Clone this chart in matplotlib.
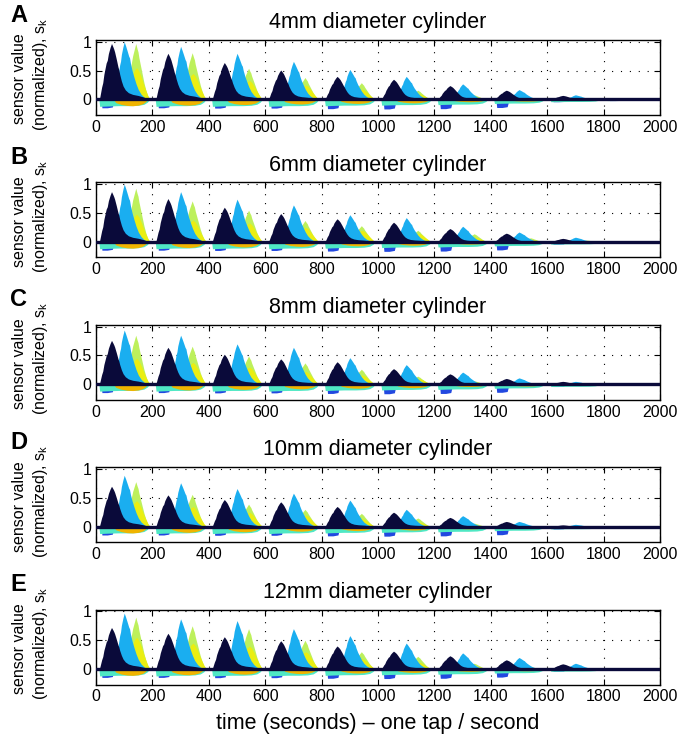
import matplotlib.pyplot as plt

plt.rcParams['font.family'] = ['Liberation Sans', 'DejaVu Sans']

# tap groups start every 200 s
taps = [0, 200, 400, 600, 800, 1000, 1200, 1400, 1600, 1800]

titles = ["4mm diameter cylinder", "6mm diameter cylinder", "8mm diameter cylinder",
          "10mm diameter cylinder", "12mm diameter cylinder"]
letters = ["A", "B", "C", "D", "E"]

# peak values per tap group
navy_peaks = [
    [0.97, 0.80, 0.64, 0.51, 0.40, 0.35, 0.24, 0.16, 0.07, 0.02],
    [0.87, 0.75, 0.60, 0.49, 0.40, 0.34, 0.23, 0.15, 0.06, 0.02],
    [0.76, 0.64, 0.52, 0.44, 0.39, 0.27, 0.18, 0.10, 0.05, 0.02],
    [0.70, 0.55, 0.47, 0.43, 0.35, 0.25, 0.16, 0.09, 0.03, 0.02],
    [0.72, 0.62, 0.56, 0.49, 0.40, 0.31, 0.23, 0.16, 0.09, 0.02],
]
blue_peaks = [
    [1.00, 0.92, 0.80, 0.66, 0.52, 0.40, 0.27, 0.17, 0.08, 0.02],
    [1.00, 0.87, 0.74, 0.64, 0.47, 0.42, 0.27, 0.17, 0.08, 0.02],
    [0.94, 0.85, 0.70, 0.64, 0.46, 0.34, 0.21, 0.11, 0.05, 0.02],
    [0.89, 0.76, 0.66, 0.58, 0.46, 0.30, 0.19, 0.09, 0.04, 0.02],
    [0.97, 0.87, 0.84, 0.70, 0.58, 0.45, 0.28, 0.20, 0.10, 0.02],
]
green_peaks = [
    [0.97, 0.81, 0.54, 0.38, 0.29, 0.16, 0.08, 0.03, 0.02, 0.01],
    [0.93, 0.71, 0.55, 0.37, 0.28, 0.20, 0.14, 0.07, 0.03, 0.01],
    [0.85, 0.66, 0.49, 0.37, 0.26, 0.14, 0.06, 0.03, 0.02, 0.01],
    [0.78, 0.56, 0.39, 0.30, 0.23, 0.15, 0.06, 0.02, 0.01, 0.01],
    [0.90, 0.75, 0.70, 0.50, 0.30, 0.22, 0.10, 0.04, 0.02, 0.01],
]
yellow_peaks = [
    [0.55, 0.45, 0.33, 0.25, 0.18, 0.10, 0.05, 0.02, 0.01, 0.01],
    [0.48, 0.38, 0.33, 0.25, 0.20, 0.15, 0.08, 0.04, 0.02, 0.01],
    [0.45, 0.38, 0.30, 0.22, 0.16, 0.10, 0.04, 0.02, 0.01, 0.01],
    [0.45, 0.35, 0.25, 0.20, 0.14, 0.08, 0.03, 0.01, 0.01, 0.01],
    [0.55, 0.45, 0.40, 0.30, 0.18, 0.12, 0.05, 0.02, 0.01, 0.01],
]
# negative excursions (depth below zero) per tap group
turq_depth = [0.12, 0.12, 0.12, 0.12, 0.11, 0.10, 0.09, 0.07, 0.04, 0.02]
orange_depth = [0.11, 0.10, 0.09, 0.08, 0.07, 0.06, 0.04, 0.03, 0.01, 0.01]
dblue_depth = [0.145, 0.145, 0.15, 0.15, 0.16, 0.165, 0.16, 0.14, 0.04, 0.02]

# pulse outlines (seconds after tap, fraction of peak)
navy_t = [12, 20, 24, 28, 36, 40, 44, 50, 55, 60, 63, 66, 72, 78, 81, 84, 90, 96, 104, 115, 130, 150, 170, 188]
navy_f = [0, 0.22, 0.3, 0.45, 0.65, 0.7, 0.82, 0.93, 1.0, 0.94, 0.9, 0.85, 0.72, 0.58, 0.53, 0.45, 0.33, 0.24, 0.17, 0.12, 0.09, 0.07, 0.04, 0]
blue_t = [66, 72, 78, 84, 87, 90, 95, 100, 105, 110, 116, 119, 122, 128, 135, 142, 150, 160, 170, 182]
blue_f = [0, 0.2, 0.4, 0.6, 0.66, 0.78, 0.9, 1.0, 0.93, 0.85, 0.75, 0.72, 0.63, 0.5, 0.38, 0.27, 0.17, 0.09, 0.04, 0]
green_t = [105, 114, 122, 130, 136, 141, 146, 149, 152, 158, 164, 170, 176, 182, 190]
green_f = [0, 0.3, 0.55, 0.78, 0.9, 1.0, 0.9, 0.85, 0.75, 0.6, 0.45, 0.3, 0.18, 0.08, 0]
yellow_t = [110, 120, 128, 136, 144, 152, 160, 168, 176, 184, 192]
yellow_f = [0, 0.4, 0.7, 0.92, 1.0, 0.9, 0.72, 0.5, 0.3, 0.12, 0]
turq_t = [10, 13, 40, 80, 120, 150, 170, 182, 190]
turq_f = [0, 1.0, 0.95, 0.9, 0.9, 0.85, 0.7, 0.4, 0]
orange_t = [62, 70, 90, 110, 130, 150, 165, 175, 183]
orange_f = [0, 0.5, 0.8, 0.95, 1.0, 0.9, 0.7, 0.4, 0]
dblue_t = [18, 21, 40, 58, 65]
dblue_f = [0, 1.0, 1.0, 0.9, 0]

navy = "#0a0a3a"
lblue = "#1aaef0"
green = "#bdf05c"
yellow = "#eaee12"
turq = "#4fe8c4"
orange = "#f0b400"
dblue = "#2248e0"

fig = plt.figure(figsize=(6.99, 7.38), dpi=100)


def pulse(ax, start, t, f, peak, color, sign=1, z=2):
    xs = [start + v for v in t]
    ys = [sign * peak * v for v in f]
    ax.fill_between(xs, 0, ys, color=color, lw=0, zorder=z)


for i in range(5):
    top = 40 + i * 142.4
    ax = fig.add_axes([96 / 699, 1 - (top + 75) / 738, 564 / 699, 75 / 738])
    for k, s in enumerate(taps):
        pulse(ax, s, dblue_t, dblue_f, dblue_depth[k], dblue, -1, 2)
        pulse(ax, s, turq_t, turq_f, turq_depth[k], turq, -1, 2.1)
        pulse(ax, s, orange_t, orange_f, orange_depth[k], orange, -1, 2.2)
        pulse(ax, s, green_t, green_f, green_peaks[i][k], green, 1, 2.3)
        pulse(ax, s, yellow_t, yellow_f, yellow_peaks[i][k], yellow, 1, 2.4)
        pulse(ax, s, blue_t, blue_f, blue_peaks[i][k], lblue, 1, 2.5)
        pulse(ax, s, navy_t, navy_f, navy_peaks[i][k], navy, 1, 2.6)
    ax.axhline(0, color=navy, lw=2.4, zorder=2.7)

    ax.set_xlim(0, 2000)
    ax.set_ylim(-0.27, 1.03)
    ax.set_xticks(range(0, 2001, 200))
    ax.set_yticks([0, 0.5, 1])
    ax.set_yticklabels(["0", "0.5", "1"])
    ax.tick_params(direction="in", top=True, right=True, length=4, labelsize=11.5)
    ax.grid(True, linestyle=(0, (1, 7)), color="k", lw=0.8)
    ax.set_axisbelow(True)
    for sp in ax.spines.values():
        sp.set_linewidth(1.0)
    ax.set_title(titles[i], fontsize=15.5, pad=8.5)
    # two-line y label, one text per line
    ax.text(-0.135, 0.48, "sensor value", transform=ax.transAxes, rotation=90,
            ha="center", va="center", fontsize=11.5)
    ax.text(-0.098, 0.55, "(normalized), s$_\\mathregular{k}$", transform=ax.transAxes,
            rotation=90, ha="center", va="center", fontsize=11.5)
    fig.text(10 / 699, 1 - (top - 25) / 738, letters[i], fontsize=17, fontweight="bold", va="center")
    if i == 4:
        ax.set_xlabel("time (seconds) \u2013 one tap / second", fontsize=15.5, labelpad=6)

fig.savefig("out.png", dpi=100)
